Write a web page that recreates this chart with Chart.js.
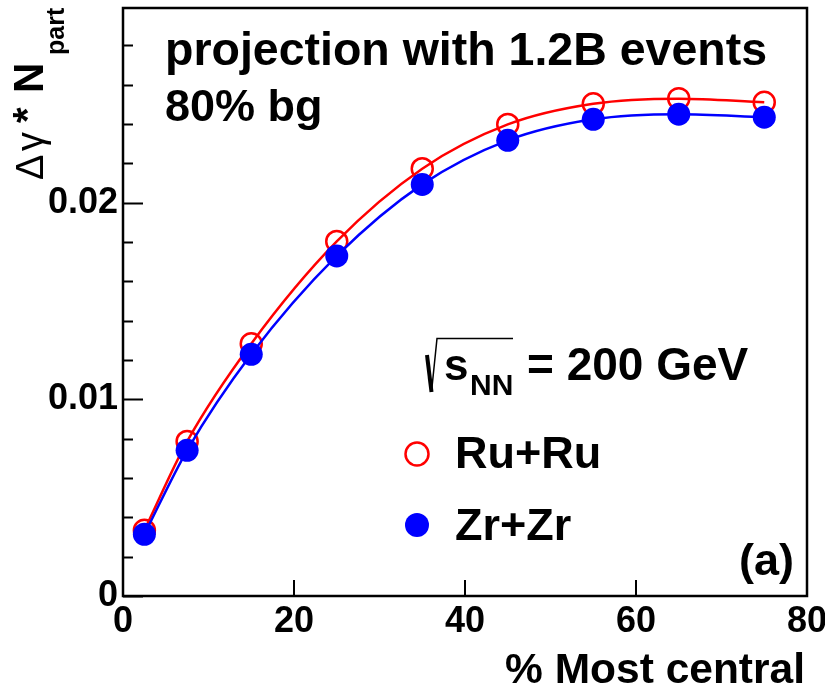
<!DOCTYPE html>
<html>
<head>
<meta charset="utf-8">
<script src="https://cdn.jsdelivr.net/npm/chart.js@4.4.0/dist/chart.umd.min.js"></script>
<style>
  body { margin: 0; background: #fff; }
  canvas { display: block; }
</style>
</head>
<body>
<canvas id="my-chart" width="825" height="690"></canvas>
<script>
// centrality bin centres (% most central)
const centrality = [2.5, 7.5, 15, 25, 35, 45, 55, 65, 75];
const ruru = [0.00334, 0.00786, 0.01283, 0.01803, 0.02173, 0.02398, 0.02503, 0.02529, 0.02511];
const zrzr = [0.00314, 0.00741, 0.01229, 0.01729, 0.02093, 0.02317, 0.02424, 0.02450, 0.02435];

const xTicks = [0, 20, 40, 60, 80];
const yTicks = [0, 0.01, 0.02];
const yMinorStep = 0.002;

const FONT = "'Liberation Sans', Arial, Helvetica, sans-serif";

function toPoints(xs, ys) {
  return xs.map((x, i) => ({ x: x, y: ys[i] }));
}

// ROOT-like frame, inner ticks and text
const rootStyle = {
  id: "rootStyle",
  afterDraw(chart) {
    const ctx = chart.ctx;
    const a = chart.chartArea;
    const xs = chart.scales.x;
    const ys = chart.scales.y;
    ctx.save();
    ctx.strokeStyle = "#000";

    // ticks
    ctx.lineWidth = 2;
    ctx.beginPath();
    for (let v = 0; v <= ys.max + 1e-9; v += yMinorStep) {
      const py = Math.round(ys.getPixelForValue(v)) + 0.5;
      const major = yTicks.some((t) => Math.abs(t - v) < 1e-7);
      ctx.moveTo(a.left, py);
      ctx.lineTo(a.left + (major ? 20 : 10), py);
    }
    xTicks.forEach((v) => {
      const px = Math.round(xs.getPixelForValue(v));
      ctx.moveTo(px, a.bottom);
      ctx.lineTo(px, a.bottom - 16);
    });
    ctx.stroke();

    // frame
    ctx.lineWidth = 2.5;
    ctx.strokeRect(a.left, a.top, a.right - a.left, a.bottom - a.top);

    ctx.fillStyle = "#000";
    ctx.textAlign = "left";
    ctx.textBaseline = "alphabetic";
    ctx.font = "bold 46.5px " + FONT;
    ctx.fillText("projection with 1.2B events", 165, 65);
    ctx.font = "bold 45px " + FONT;
    ctx.fillText("80% bg", 165, 121);

    // sqrt(s_NN) = 200 GeV
    ctx.lineWidth = 4;
    ctx.beginPath();
    ctx.moveTo(427, 355);
    ctx.lineTo(431.5, 392);
    ctx.stroke();
    ctx.lineWidth = 1.5;
    ctx.beginPath();
    ctx.moveTo(431.5, 392);
    ctx.lineTo(437, 338.5);
    ctx.lineTo(513, 338.5);
    ctx.stroke();
    ctx.font = "bold 44px " + FONT;
    ctx.fillText("s", 444, 380);
    ctx.font = "bold 30px " + FONT;
    ctx.fillText("NN", 470, 395);
    ctx.font = "bold 46px " + FONT;
    ctx.fillText("= 200 GeV", 527, 380);

    // legend
    ctx.lineWidth = 2.5;
    ctx.strokeStyle = "#ff0000";
    ctx.beginPath();
    ctx.arc(417, 454, 11.5, 0, Math.PI * 2);
    ctx.stroke();
    ctx.fillStyle = "#0000ff";
    ctx.beginPath();
    ctx.arc(417, 525, 12, 0, Math.PI * 2);
    ctx.fill();
    ctx.fillStyle = "#000";
    ctx.font = "bold 45px " + FONT;
    ctx.fillText("Ru+Ru", 455, 468);
    ctx.fillText("Zr+Zr", 455, 540);

    ctx.textAlign = "right";
    ctx.fillText("(a)", 794, 575);

    ctx.font = "bold 42.5px " + FONT;
    ctx.fillText("% Most central", 805, 683);

    // y title: Δγ * N_part (rotated)
    ctx.translate(43, 180);
    ctx.rotate(-Math.PI / 2);
    ctx.textAlign = "left";
    ctx.font = "38px " + FONT;
    ctx.fillText("\u0394", 0, 0);
    ctx.fillText("\u03b3", 29, 0);
    ctx.font = "bold 40px " + FONT;
    ctx.fillText("*", 57, -2);
    ctx.font = "bold 42px " + FONT;
    ctx.fillText("N", 87, 0);
    ctx.font = "bold 25px " + FONT;
    ctx.fillText("part", 125, 20.5);
    ctx.restore();
  },
};

const ctx = document.getElementById("my-chart").getContext("2d");
const chart = new Chart(ctx, {
  type: "scatter",
  data: {
    datasets: [
      {
        label: "Zr+Zr",
        data: toPoints(centrality, zrzr),
        showLine: true,
        cubicInterpolationMode: "monotone",
        borderColor: "#0000ff",
        backgroundColor: "#0000ff",
        borderWidth: 2.5,
        pointRadius: 11.5,
        pointBorderWidth: 0,
        pointBackgroundColor: "#0000ff",
      },
      {
        label: "Ru+Ru",
        data: toPoints(centrality, ruru),
        showLine: true,
        cubicInterpolationMode: "monotone",
        borderColor: "#ff0000",
        backgroundColor: "rgba(0,0,0,0)",
        borderWidth: 2.5,
        pointRadius: 10.5,
        pointBorderWidth: 2.5,
        pointBorderColor: "#ff0000",
        pointBackgroundColor: "rgba(0,0,0,0)",
      },
    ],
  },
  options: {
    responsive: false,
    animation: false,
    layout: { autoPadding: false, padding: { left: 0, right: 18, top: 8, bottom: 0 } },
    plugins: { legend: { display: false }, tooltip: { enabled: false } },
    scales: {
      x: {
        type: "linear",
        min: 0,
        max: 80,
        grid: { display: false, drawTicks: false },
        border: { display: false },
        afterBuildTicks: (s) => { s.ticks = xTicks.map((v) => ({ value: v })); },
        afterFit: (s) => {
          s.height = 94;
          s.paddingLeft = 0;
          s.paddingRight = 0;
        },
        ticks: {
          color: "#000",
          padding: 4,
          maxRotation: 0,
          font: { family: FONT, size: 36, weight: "bold" },
        },
      },
      y: {
        type: "linear",
        min: 0,
        max: 0.0299,
        grid: { display: false, drawTicks: false },
        border: { display: false },
        afterBuildTicks: (s) => { s.ticks = yTicks.map((v) => ({ value: v })); },
        afterFit: (s) => {
          s.width = 123;
          s.paddingTop = 0;
          s.paddingBottom = 0;
        },
        ticks: {
          color: "#000",
          padding: 5,
          font: { family: FONT, size: 36, weight: "bold" },
          callback: (v) => (v === 0 ? "0" : v.toFixed(2)),
        },
      },
    },
  },
  plugins: [rootStyle],
});
</script>
</body>
</html>
